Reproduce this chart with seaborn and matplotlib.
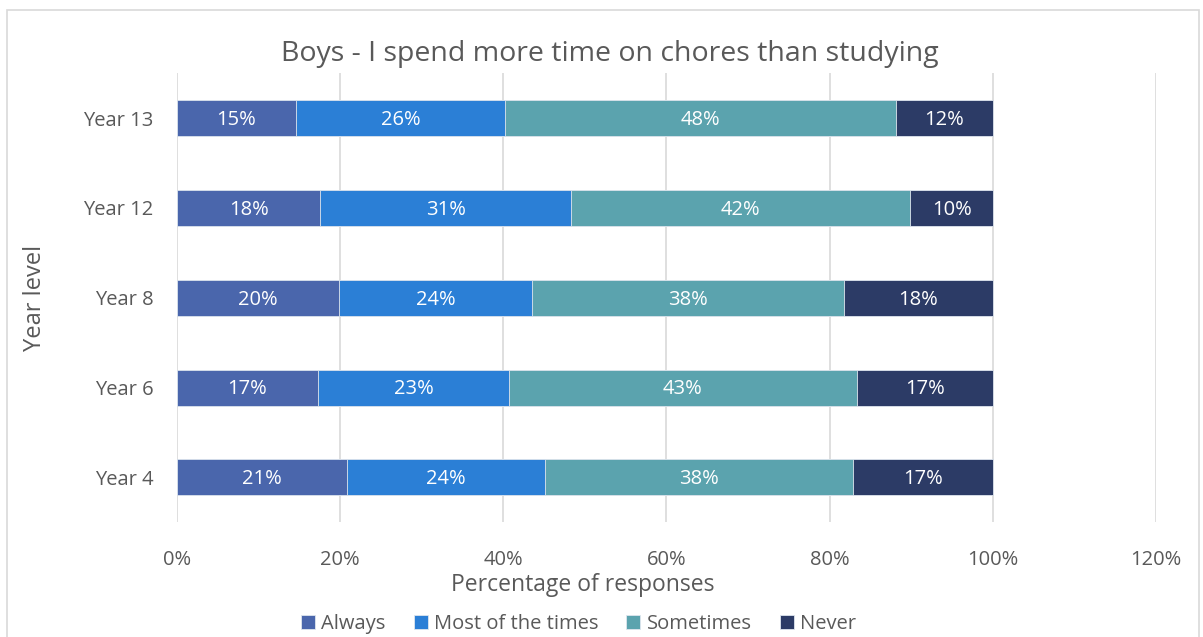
import numpy as np
import pandas as pd
import seaborn as sns
import matplotlib.pyplot as plt
from matplotlib.patches import Rectangle
from matplotlib.ticker import PercentFormatter

# данные (доли)
years = ['Year 13', 'Year 12', 'Year 8', 'Year 6', 'Year 4']
series = ['Always', 'Most of the times', 'Sometimes', 'Never']
always = [0.146, 0.176, 0.199, 0.173, 0.208]
most = [0.256, 0.307, 0.236, 0.234, 0.243]
sometimes = [0.479, 0.416, 0.382, 0.426, 0.377]
never = [0.119, 0.101, 0.183, 0.167, 0.172]
colors = ['#4a66ac', '#2b7fd6', '#5ba3ae', '#2c3b66']

df = pd.DataFrame({'Year': years, 'Always': always, 'Most of the times': most,
                   'Sometimes': sometimes, 'Never': never})
cum = df[series].cumsum(axis=1)

sns.set_theme(style='white')
plt.rcParams['font.family'] = ['Open Sans', 'DejaVu Sans']

fig = plt.figure(figsize=(12.03, 6.37), dpi=100)
ax = fig.add_axes([0.147, 0.180, 0.814, 0.705])

# рамка вокруг диаграммы
fig.patches.append(Rectangle((7 / 1203, -0.05), 1192 / 1203, 1.05 - 10 / 637,
                             transform=fig.transFigure, fill=False,
                             edgecolor='#d9d9d9', linewidth=1.2))

# накопленные столбцы, от большего к меньшему
for name, col in reversed(list(zip(series, colors))):
    sns.barplot(x=cum[name], y=df['Year'], order=years, orient='h', color=col,
                width=0.4, ax=ax, label=name, edgecolor='#dfe6ee', linewidth=0.6,
                saturation=1)

# подписи внутри сегментов
for i, y in enumerate(years):
    for name in series:
        v = df.loc[i, name]
        ax.text(cum.loc[i, name] - v / 2, i + 0.02, f'{v * 100:.0f}%', ha='center',
                va='center', color='white', fontsize=14.5)

ax.set_xlim(0, 1.2)
ax.set_xticks(np.arange(0, 1.21, 0.2))
ax.xaxis.set_major_formatter(PercentFormatter(1.0, decimals=0))
ax.grid(axis='x', color='#d9d9d9', linewidth=1.2)
ax.set_axisbelow(True)
for s in ax.spines.values():
    s.set_visible(False)
ax.tick_params(axis='both', length=0, labelsize=14.5, labelcolor='#595959')
ax.tick_params(axis='y', pad=17)
ax.tick_params(axis='x', pad=20)

fig.suptitle('Boys - I spend more time on chores than studying', x=610 / 1203,
             y=1 - 40 / 637, fontsize=20.5, color='#595959', va='top')
ax.set_xlabel('Percentage of responses', fontsize=16.5, color='#595959')
ax.xaxis.set_label_coords(0.415, -0.112)
ax.set_ylabel('Year level', fontsize=17, color='#595959')
ax.yaxis.set_label_coords(-0.133, 0.5)

handles, labels = ax.get_legend_handles_labels()
order = [labels.index(s) for s in series]
ax.legend([handles[k] for k in order], series, loc='upper center',
          bbox_to_anchor=(0.41, -0.181), ncol=4, frameon=False, fontsize=14.5,
          labelcolor='#595959', handlelength=0.7, handleheight=0.7,
          handletextpad=0.3, columnspacing=1.4, borderpad=0)

plt.savefig('out.png', dpi=100)
